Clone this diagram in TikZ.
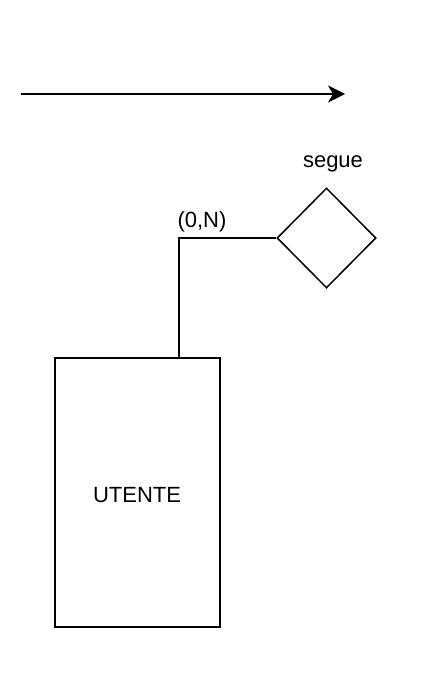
\documentclass[tikz,border=0pt]{standalone}
\usepackage{fontspec}
\setmainfont{Liberation Sans}
\usetikzlibrary{
	arrows.meta,
	shapes.geometric,
}

\begin{document}
\begin{tikzpicture}[x=1pt, y=-1pt, line width=1.5pt, every node/.style={font=\fontsize{22}{26}\selectfont}]
\useasboundingbox (0,0) rectangle (424,685);
% arrow on top
\coordinate (arrowstart) at (21,94);
\coordinate (arrowend) at (345,94);
\draw[-{Stealth[length=17pt,width=17pt,inset=5pt]}] (arrowstart) -- (arrowend);
% entity
\node[draw, rectangle, minimum width=165pt, minimum height=269pt, inner sep=0pt] (utente) at (137.5,492.5) {};
\node[anchor=base] (utentetext) at (137,502) {UTENTE};
% relation
\node[draw, diamond, minimum width=99pt, minimum height=100pt, inner sep=0pt] (segue) at (326.5,238) {};
\node[anchor=base] (seguetext) at (333,167) {segue};
% link with cardinality
\coordinate (corner) at (179,238);
\draw (utente.north -| corner) -- (corner) -- (segue.west);
\node[anchor=base] (card) at (202,227) {(0,N)};
\end{tikzpicture}
\end{document}
